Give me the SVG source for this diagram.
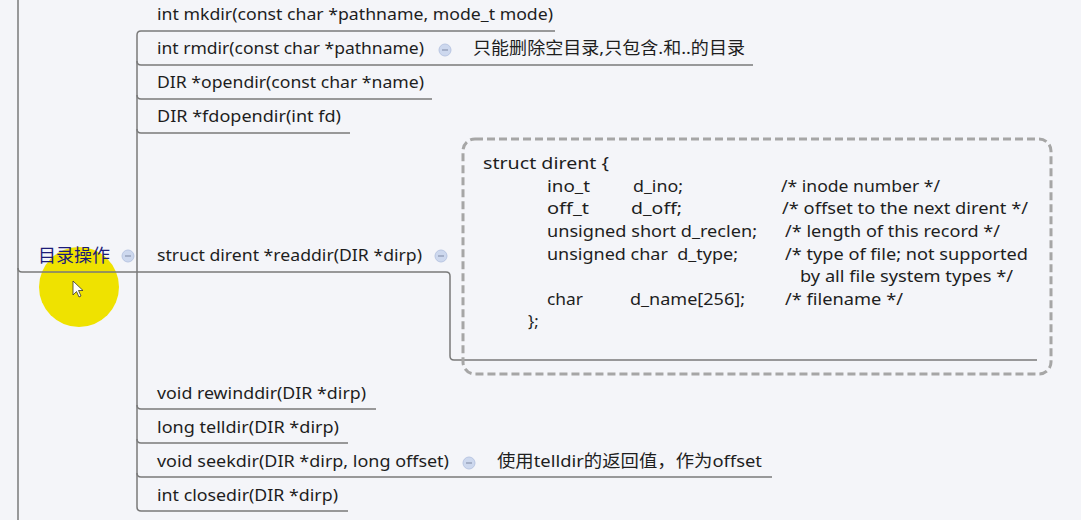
<svg xmlns="http://www.w3.org/2000/svg" width="1081" height="520" viewBox="0 0 1081 520">
<style>
.t{font-family:"Noto Sans","Noto Sans CJK SC",sans-serif;font-size:16.5px;fill:#1e1e1e}
.cj{font-family:"Noto Sans","Noto Sans CJK SC",sans-serif;font-size:17px;fill:#1e1e1e}
.root{font-family:"Noto Sans CJK SC",sans-serif;font-size:18px;fill:#1c1c78}
.ln{fill:none;stroke:#7a7a7a;stroke-width:1.5}
.ic{fill:#cdd8ee;stroke:#b9c6e2;stroke-width:1}
.icm{stroke:#8a96b0;stroke-width:1.2}
</style>
<defs>
<g id="col"><circle r="6" class="ic"/><line x1="-3" y1="0" x2="3" y2="0" class="icm"/></g>
</defs>
<rect width="1081" height="520" fill="#f4f5f9"/>
<circle cx="79" cy="287" r="40" fill="#efe200"/>
<g id="connectors">
<path class="ln" d="M18 0 V520"/>
<path class="ln" d="M18 268 Q18 272 22 272 H446 Q450 272 450 276 V356 Q450 360 454 360 H1037"/>
<path class="ln" d="M141 31 Q137 31 137 35 V507"/>
<path class="ln" d="M141 31 H555"/>
<path class="ln" d="M137 61 Q137 65 141 65 H462"/>
<path class="ln" d="M462 65 H753"/>
<path class="ln" d="M137 95 Q137 99 141 99 H432"/>
<path class="ln" d="M137 129 Q137 133 141 133 H350"/>
<path class="ln" d="M137 405 Q137 409 141 409 H376"/>
<path class="ln" d="M137 439 Q137 443 141 443 H348"/>
<path class="ln" d="M137 473 Q137 477 141 477 H462"/>
<path class="ln" d="M462 477 H772"/>
<path class="ln" d="M137 507 Q137 511 141 511 H348"/>
</g>
<g id="root">
<text class="root" x="38" y="262" textLength="72" lengthAdjust="spacingAndGlyphs">目录操作</text>
<use href="#col" x="128" y="256"/>
</g>
<g id="n-mkdir"><text class="t" x="157" y="20" textLength="396" lengthAdjust="spacingAndGlyphs">int mkdir(const char *pathname, mode_t mode)</text></g>
<g id="n-rmdir"><text class="t" x="157" y="54" textLength="267" lengthAdjust="spacingAndGlyphs">int rmdir(const char *pathname)</text><use href="#col" x="445" y="50"/></g>
<g id="n-rmdir-note"><text class="cj" x="473" y="54" textLength="272" lengthAdjust="spacingAndGlyphs">只能删除空目录,只包含.和..的目录</text></g>
<g id="n-opendir"><text class="t" x="157" y="88" textLength="267" lengthAdjust="spacingAndGlyphs">DIR *opendir(const char *name)</text></g>
<g id="n-fdopendir"><text class="t" x="157" y="122" textLength="184" lengthAdjust="spacingAndGlyphs">DIR *fdopendir(int fd)</text></g>
<g id="n-readdir"><text class="t" x="157" y="261" textLength="265" lengthAdjust="spacingAndGlyphs">struct dirent *readdir(DIR *dirp)</text><use href="#col" x="441" y="256"/></g>
<g id="n-dirent">
<rect x="463" y="139" width="588" height="235" rx="12" fill="none" stroke="#a6a6a6" stroke-width="3" stroke-dasharray="8 4"/>
<text class="t" x="483" y="169" textLength="126" lengthAdjust="spacingAndGlyphs">struct dirent {</text>
<text class="t" x="547" y="192" textLength="43" lengthAdjust="spacingAndGlyphs">ino_t</text><text class="t" x="633" y="192" textLength="50" lengthAdjust="spacingAndGlyphs">d_ino;</text><text class="t" x="781" y="192" textLength="159" lengthAdjust="spacingAndGlyphs">/* inode number */</text>
<text class="t" x="547" y="214" textLength="42" lengthAdjust="spacingAndGlyphs">off_t</text><text class="t" x="631" y="214" textLength="51" lengthAdjust="spacingAndGlyphs">d_off;</text><text class="t" x="782" y="214" textLength="246" lengthAdjust="spacingAndGlyphs">/* offset to the next dirent */</text>
<text class="t" x="547" y="237" textLength="210" lengthAdjust="spacingAndGlyphs">unsigned short d_reclen;</text><text class="t" x="785" y="237" textLength="215" lengthAdjust="spacingAndGlyphs">/* length of this record */</text>
<text class="t" x="547" y="260" textLength="191" lengthAdjust="spacingAndGlyphs" xml:space="preserve">unsigned char  d_type;</text><text class="t" x="785" y="260" textLength="243" lengthAdjust="spacingAndGlyphs">/* type of file; not supported</text>
<text class="t" x="800" y="282" textLength="213" lengthAdjust="spacingAndGlyphs">by all file system types */</text>
<text class="t" x="547" y="305" textLength="36" lengthAdjust="spacingAndGlyphs">char</text><text class="t" x="630" y="305" textLength="115" lengthAdjust="spacingAndGlyphs">d_name[256];</text><text class="t" x="785" y="305" textLength="118" lengthAdjust="spacingAndGlyphs">/* filename */</text>
<text class="t" x="528" y="327">};</text>
</g>
<g id="n-rewinddir"><text class="t" x="157" y="399" textLength="209" lengthAdjust="spacingAndGlyphs">void rewinddir(DIR *dirp)</text></g>
<g id="n-telldir"><text class="t" x="157" y="433" textLength="182" lengthAdjust="spacingAndGlyphs">long telldir(DIR *dirp)</text></g>
<g id="n-seekdir"><text class="t" x="157" y="467" textLength="292" lengthAdjust="spacingAndGlyphs">void seekdir(DIR *dirp, long offset)</text><use href="#col" x="469" y="463"/></g>
<g id="n-seekdir-note"><text class="cj" x="497" y="467" textLength="265" lengthAdjust="spacingAndGlyphs">使用telldir的返回值，作为offset</text></g>
<g id="n-closedir"><text class="t" x="157" y="501" textLength="181" lengthAdjust="spacingAndGlyphs">int closedir(DIR *dirp)</text></g>
<path d="M73 281 V295 L76.5 291.5 L79 297 L81 296 L78.5 290.5 L83 290.5 Z" fill="#fff" stroke="#333" stroke-width="0.8"/>
</svg>
